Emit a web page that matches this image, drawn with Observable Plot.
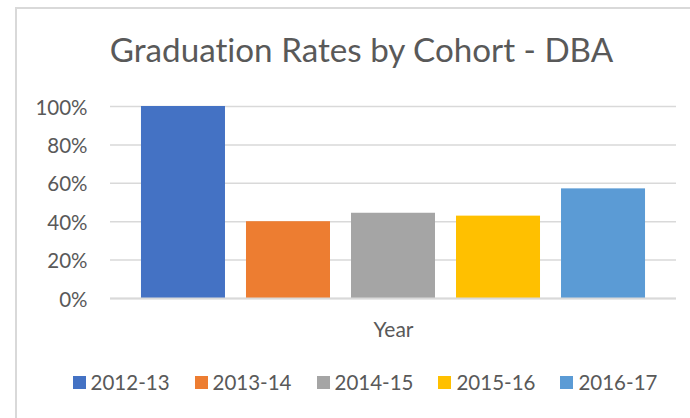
<!DOCTYPE html>
<html>
<head>
<meta charset="utf-8">
<script src="https://cdn.jsdelivr.net/npm/d3@7"></script>
<script src="https://cdn.jsdelivr.net/npm/@observablehq/plot@0.6"></script>
<style>
  html, body { margin: 0; padding: 0; background: #fff; width: 690px; height: 418px; overflow: hidden; }
  #frame { position: absolute; left: 15px; top: 7px; width: 740px; height: 460px; border: 2px solid #d9d9d9; box-sizing: border-box; }
  #title { position: absolute; left: 0; top: 33px; width: 723px; text-align: center; font-family: Lato, sans-serif; font-size: 33.2px; line-height: 1; color: #595959; white-space: nowrap; font-variant-ligatures: none; }
  #chart { position: absolute; left: 0; top: 0; }
  #legend { position: absolute; left: 0; top: 372px; width: 730px; display: flex; justify-content: center; font-family: Lato, sans-serif; font-size: 20.5px; line-height: 1; color: #595959; }
  .item { display: flex; align-items: center; margin: 0 12.5px; white-space: nowrap; }
  .sw { width: 13px; height: 13px; margin-right: 5px; }
</style>
</head>
<body>
<div id="frame"></div>
<div id="chart"></div>
<div id="title"></div>
<div id="legend"></div>
<script>
const titleText = "Graduation Rates by Cohort - DBA";
const xLabel = "Year";
const cohorts = ["2012-13", "2013-14", "2014-15", "2015-16", "2016-17"];
const rates = [100, 40, 44.4, 42.9, 57.1];
const colors = ["#4472C4", "#ED7D31", "#A5A5A5", "#FFC000", "#5B9BD5"];
const yTicks = [0, 20, 40, 60, 80, 100];

const data = cohorts.map((c, i) => ({cohort: c, rate: rates[i]}));

document.getElementById("title").textContent = titleText;

const plot = Plot.plot({
  width: 690,
  height: 350,
  marginTop: 106,
  marginBottom: 52,
  marginLeft: 110,
  marginRight: 14,
  style: {background: "transparent", color: "#595959", fontFamily: "Lato, sans-serif"},
  x: {domain: cohorts, paddingInner: 0.2, paddingOuter: 0.295, round: false, axis: null},
  y: {domain: [0, 100], axis: null},
  color: {domain: cohorts, range: colors},
  marks: [
    Plot.gridY(yTicks, {stroke: "#d9d9d9", strokeOpacity: 1, strokeWidth: 1.5}),
    Plot.barY(data, {x: "cohort", y: "rate", fill: "cohort"}),
    Plot.ruleY([0], {stroke: "#d9d9d9", strokeWidth: 2}),
    Plot.axisY(yTicks, {tickSize: 0, tickPadding: 23, fontSize: 20.5, tickFormat: d => d + "%", label: null, dy: 1.5}),
    Plot.text([xLabel], {frameAnchor: "bottom", lineAnchor: "top", dy: 23.5, fontSize: 21, fill: "#595959"})
  ]
});
document.getElementById("chart").appendChild(plot);

const legend = document.getElementById("legend");
cohorts.forEach((c, i) => {
  const item = document.createElement("div");
  item.className = "item";
  const sw = document.createElement("span");
  sw.className = "sw";
  sw.style.background = colors[i];
  const t = document.createElement("span");
  t.textContent = c;
  item.appendChild(sw);
  item.appendChild(t);
  legend.appendChild(item);
});
</script>
</body>
</html>
